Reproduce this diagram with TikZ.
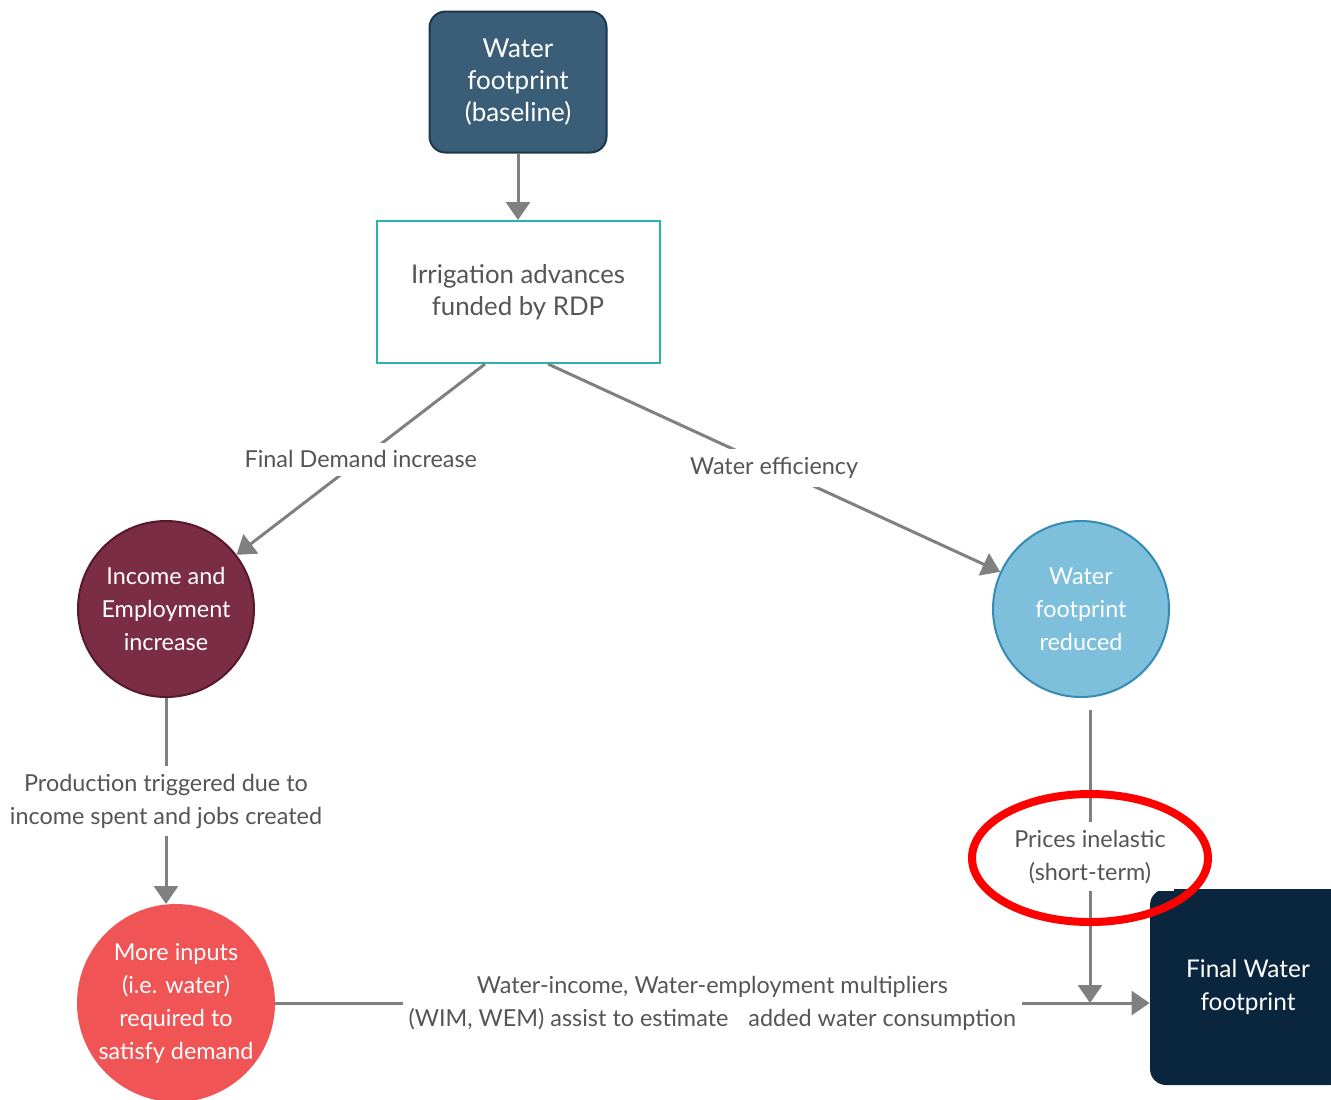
\documentclass[tikz,border=0pt]{standalone}
\usepackage{fontspec}
\setmainfont{Lato}
\usetikzlibrary{arrows.meta,calc}
\definecolor{baseblue}{RGB}{59,94,120}
\definecolor{baseedge}{RGB}{28,55,75}
\definecolor{irrteal}{RGB}{43,178,170}
\definecolor{incmaroon}{RGB}{124,45,70}
\definecolor{incedge}{RGB}{88,24,44}
\definecolor{redblue}{RGB}{126,192,220}
\definecolor{rededge}{RGB}{52,140,180}
\definecolor{morecoral}{RGB}{240,84,85}
\definecolor{finalnavy}{RGB}{10,37,62}
\definecolor{linegray}{RGB}{128,128,128}
\definecolor{labelgray}{RGB}{85,85,85}
\begin{document}
\begin{tikzpicture}[x=0.5pt,y=-0.5pt,
  font=\fontsize{11.7}{16.5}\selectfont,
  conn/.style={draw=linegray,line width=1.5pt,-{Triangle[length=9pt,width=12pt]}},
  lbl/.style={fill=white,text=labelgray,align=center,inner sep=4pt},
  bubble/.style={circle,draw,line width=1pt,text=white,align=center,inner sep=0pt}]
\useasboundingbox (0,0) rectangle (1331,1099);
% boxes
\node[rounded corners=8pt,fill=baseblue,draw=baseedge,line width=1pt,minimum width=88.5pt,minimum height=70.5pt,text=white,align=center,font=\fontsize{13}{16}\selectfont] (base) at (518,82) {Water\\footprint\\(baseline)};
\node[draw=irrteal,line width=1pt,minimum width=141.5pt,minimum height=71pt,text=labelgray,align=center,font=\fontsize{12.9}{16}\selectfont] (irr) at (518,292) {Irrigation advances\\funded by RDP};
% circles
\node[bubble,fill=incmaroon,draw=incedge,minimum size=88pt] (inc) at (166,609) {Income and\\Employment\\increase};
\node[bubble,fill=redblue,draw=rededge,minimum size=88pt] (red) at (1081,609) {Water\\footprint\\reduced};
\node[bubble,fill=morecoral,draw=morecoral,minimum size=98pt] (more) at (176,1003) {More inputs\\(i.e. water)\\required to\\satisfy demand};
\node[rounded corners=8pt,fill=finalnavy,minimum width=98pt,minimum height=98pt,text=white,align=center,font=\fontsize{12.2}{16.5}\selectfont] (final) at (1248,987) {Final Water\\footprint};
\coordinate (join) at (1090,1003);
% connectors
\draw[conn] (base) -- (irr);
\draw[conn] ($(irr.south)+(-33,0)$) -- node[lbl]{Final Demand increase} (inc);
\draw[conn] ($(irr.south)+(30,0)$) -- node[lbl]{Water efficiency} (red);
\draw[conn] (inc.south) -- node[lbl]{Production triggered due to\\income spent and jobs created} (inc.south |- more.north);
\draw[conn,shorten <=6pt] (red.south -| join) -- node[lbl,pos=0.52]{Prices inelastic\\(short-term)} (join);
\draw[conn] (more.east) -- node[lbl,inner sep=3pt]{Water-income, Water-employment multipliers\\(WIM, WEM) assist to estimate\hspace{0.6em} added water consumption} (more.east -| final.west);
% highlight
\draw[red,line width=4pt] (1090,858) ellipse [x radius=118, y radius=64];
\end{tikzpicture}
\end{document}
